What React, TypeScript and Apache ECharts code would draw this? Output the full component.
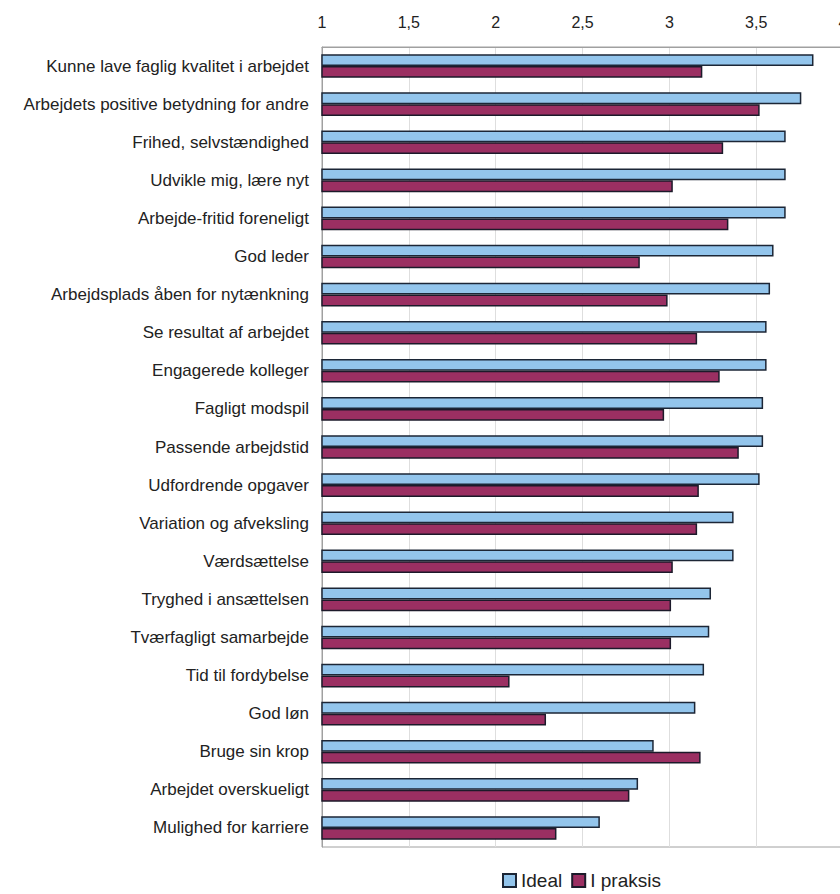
import React, { useEffect, useRef } from "react";
import * as echarts from "echarts";

// Work-value items, top to bottom
const categories = [
  "Kunne lave faglig kvalitet i arbejdet",
  "Arbejdets positive betydning for andre",
  "Frihed, selvstændighed",
  "Udvikle mig, lære nyt",
  "Arbejde-fritid foreneligt",
  "God leder",
  "Arbejdsplads åben for nytænkning",
  "Se resultat af arbejdet",
  "Engagerede kolleger",
  "Fagligt modspil",
  "Passende arbejdstid",
  "Udfordrende opgaver",
  "Variation og afveksling",
  "Værdsættelse",
  "Tryghed i ansættelsen",
  "Tværfagligt samarbejde",
  "Tid til fordybelse",
  "God løn",
  "Bruge sin krop",
  "Arbejdet overskueligt",
  "Mulighed for karriere",
];

const idealValues = [
  3.83, 3.76, 3.67, 3.67, 3.67, 3.6, 3.58, 3.56, 3.56, 3.54, 3.54, 3.52,
  3.37, 3.37, 3.24, 3.23, 3.2, 3.15, 2.91, 2.82, 2.6,
];

const praksisValues = [
  3.19, 3.52, 3.31, 3.02, 3.34, 2.83, 2.99, 3.16, 3.29, 2.97, 3.4, 3.17,
  3.16, 3.02, 3.01, 3.01, 2.08, 2.29, 3.18, 2.77, 2.35,
];

const seriesNames = ["Ideal", "I praksis"];

export default function App() {
  const ref = useRef<HTMLDivElement>(null);

  useEffect(() => {
    if (!ref.current) return;
    const chart = echarts.init(ref.current, undefined, { renderer: "svg" });
    const font = "'Liberation Sans', Arial, sans-serif";
    chart.setOption({
      animation: false,
      backgroundColor: "#ffffff",
      textStyle: { fontFamily: font },
      grid: {
        left: 322,
        right: -3,
        top: 47,
        bottom: 47,
        outerBoundsMode: "none",
        containLabel: false,
        show: true,
        borderColor: "#a0a0a0",
        borderWidth: 1,
        backgroundColor: "transparent",
      },
      legend: {
        data: seriesNames,
        top: 871,
        left: 502,
        padding: 0,
        icon: "rect",
        itemWidth: 13,
        itemHeight: 13,
        itemGap: 9,
        textStyle: { fontSize: 19, color: "#222", fontFamily: font },
      },
      xAxis: {
        type: "value",
        position: "top",
        min: 1,
        max: 4,
        interval: 0.5,
        axisLine: { show: true, lineStyle: { color: "#a0a0a0" } },
        axisTick: { show: false },
        splitLine: { show: true, lineStyle: { color: "#dedede", width: 1 } },
        axisLabel: {
          fontSize: 16,
          color: "#222",
          margin: 17,
          formatter: (v: number) => String(v).replace(".", ","),
        },
      },
      yAxis: {
        type: "category",
        data: categories,
        inverse: true,
        axisLine: { show: true, lineStyle: { color: "#a0a0a0" } },
        axisTick: { show: false },
        axisLabel: { fontSize: 17, color: "#222", margin: 13 },
      },
      series: [
        {
          name: seriesNames[0],
          type: "bar",
          data: idealValues,
          barGap: "0%",
          barCategoryGap: "38%",
          itemStyle: { color: "#93c5ec", borderColor: "#1c2636", borderWidth: 1.5 },
        },
        {
          name: seriesNames[1],
          type: "bar",
          data: praksisValues,
          itemStyle: { color: "#9b2f62", borderColor: "#1c1a2a", borderWidth: 1.5 },
        },
      ],
    });
    return () => chart.dispose();
  }, []);

  return (
    <div
      ref={ref}
      style={{ position: "absolute", left: 0, top: 0, width: 840, height: 894 }}
    />
  );
}
